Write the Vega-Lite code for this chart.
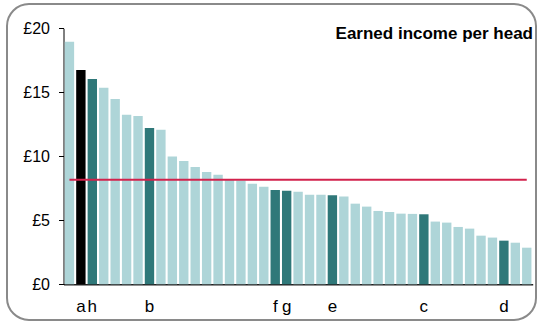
{
  "$schema": "https://vega.github.io/schema/vega-lite/v6.json",
  "width": 529,
  "height": 316,
  "autosize": {"type": "none"},
  "padding": {"left": 7, "top": 4, "right": 2, "bottom": 3},
  "background": "white",
  "config": {
    "view": {"stroke": "#8a8a8a", "strokeWidth": 2, "cornerRadius": 22},
    "font": "Liberation Sans"
  },
  "title": {
    "text": "Earned income per head",
    "anchor": "end",
    "frame": "group",
    "orient": "top",
    "offset": 0,
    "baseline": "alphabetic",
    "dy": 52,
    "dx": -3,
    "fontSize": 17,
    "fontWeight": "bold",
    "color": "black",
    "font": "Liberation Sans"
  },
  "data": {
    "values": [
      {"rank": 1, "income": 18.95, "label": ""},
      {"rank": 2, "income": 16.74, "label": "a"},
      {"rank": 3, "income": 16.04, "label": "h"},
      {"rank": 4, "income": 15.36, "label": ""},
      {"rank": 5, "income": 14.48, "label": ""},
      {"rank": 6, "income": 13.25, "label": ""},
      {"rank": 7, "income": 13.15, "label": ""},
      {"rank": 8, "income": 12.21, "label": "b"},
      {"rank": 9, "income": 12.08, "label": ""},
      {"rank": 10, "income": 9.98, "label": ""},
      {"rank": 11, "income": 9.63, "label": ""},
      {"rank": 12, "income": 9.16, "label": ""},
      {"rank": 13, "income": 8.77, "label": ""},
      {"rank": 14, "income": 8.55, "label": ""},
      {"rank": 15, "income": 8.2, "label": ""},
      {"rank": 16, "income": 8.1, "label": ""},
      {"rank": 17, "income": 7.86, "label": ""},
      {"rank": 18, "income": 7.63, "label": ""},
      {"rank": 19, "income": 7.37, "label": "f"},
      {"rank": 20, "income": 7.31, "label": "g"},
      {"rank": 21, "income": 7.24, "label": ""},
      {"rank": 22, "income": 7.0, "label": ""},
      {"rank": 23, "income": 7.0, "label": ""},
      {"rank": 24, "income": 6.95, "label": "e"},
      {"rank": 25, "income": 6.85, "label": ""},
      {"rank": 26, "income": 6.3, "label": ""},
      {"rank": 27, "income": 6.07, "label": ""},
      {"rank": 28, "income": 5.73, "label": ""},
      {"rank": 29, "income": 5.65, "label": ""},
      {"rank": 30, "income": 5.52, "label": ""},
      {"rank": 31, "income": 5.5, "label": ""},
      {"rank": 32, "income": 5.47, "label": "c"},
      {"rank": 33, "income": 4.9, "label": ""},
      {"rank": 34, "income": 4.82, "label": ""},
      {"rank": 35, "income": 4.48, "label": ""},
      {"rank": 36, "income": 4.35, "label": ""},
      {"rank": 37, "income": 3.8, "label": ""},
      {"rank": 38, "income": 3.65, "label": ""},
      {"rank": 39, "income": 3.41, "label": "d"},
      {"rank": 40, "income": 3.25, "label": ""},
      {"rank": 41, "income": 2.86, "label": ""}
    ]
  },
  "encoding": {
    "x": {
      "field": "rank",
      "type": "ordinal",
      "sort": null,
      "scale": {"range": [56.5, 525.7], "paddingInner": 0.18, "paddingOuter": 0.11},
      "axis": {
        "orient": "bottom",
        "offset": -35.7,
        "labels": false,
        "ticks": false,
        "title": null,
        "domainColor": "#222222",
        "domainWidth": 1.5
      }
    }
  },
  "layer": [
    {
      "mark": {"type": "bar"},
      "encoding": {
        "y": {
          "field": "income",
          "type": "quantitative",
          "scale": {"domain": [0, 20], "range": [280.3, 24.3], "nice": false, "zero": true},
          "axis": {
            "orient": "left",
            "offset": -56.5,
            "values": [0, 5, 10, 15, 20],
            "labelExpr": "'£' + datum.value",
            "title": null,
            "grid": false,
            "tickSize": 5,
            "labelPadding": 9,
            "labelFontSize": 16,
            "labelColor": "black",
            "labelFont": "Liberation Sans",
            "domainColor": "black",
            "tickColor": "black"
          }
        },
        "color": {
          "condition": [
            {"test": "datum.label === 'a'", "value": "#000000"},
            {"test": "datum.label !== ''", "value": "#2f7879"}
          ],
          "value": "#aed5d8"
        }
      }
    },
    {
      "mark": {"type": "line", "color": "#d2224c", "strokeWidth": 2},
      "encoding": {"y": {"datum": 8.17}}
    },
    {
      "mark": {"type": "text", "fontSize": 17, "dy": 28, "baseline": "alphabetic", "align": "center", "color": "black", "font": "Liberation Sans"},
      "encoding": {"text": {"field": "label"}, "y": {"datum": 0}}
    }
  ]
}
